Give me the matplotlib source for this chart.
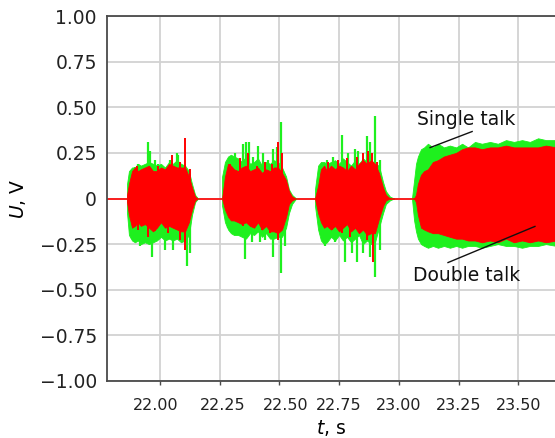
import matplotlib
matplotlib.use("Agg")
import matplotlib.pyplot as plt
import matplotlib.transforms as mtransforms

# ---------------- data ----------------
x_ticks = [22.00, 22.25, 22.50, 22.75, 23.00, 23.25, 23.50]
x_tick_labels = ["22.00", "22.25", "22.50", "22.75", "23.00", "23.25", "23.50"]
y_ticks = [1.00, 0.75, 0.50, 0.25, 0.0, -0.25, -0.50, -0.75, -1.00]
y_tick_labels = ["1.00", "0.75", "0.50", "0.25", "0", "\u22120.25", "\u22120.50", "\u22120.75", "\u22121.00"]

# burst 1 envelopes
t1 = [21.862, 21.870, 21.883, 21.895, 21.908, 21.920, 21.937, 21.954, 21.971, 21.987, 22.004,
      22.021, 22.038, 22.054, 22.071, 22.088, 22.105, 22.121, 22.134, 22.147, 22.159]
g1_up = [0.08, 0.15, 0.17, 0.17, 0.19, 0.18, 0.19, 0.20, 0.19, 0.18, 0.19, 0.17, 0.20, 0.19, 0.21, 0.19, 0.18, 0.15, 0.08, 0.02, 0.0]
g1_lo = [-0.08, -0.20, -0.23, -0.24, -0.23, -0.25, -0.24, -0.25, -0.24, -0.23, -0.21, -0.23, -0.22, -0.23, -0.22, -0.24, -0.23, -0.20, -0.09, -0.02, 0.0]
r1_up = [0.02, 0.08, 0.15, 0.17, 0.15, 0.16, 0.17, 0.18, 0.15, 0.15, 0.17, 0.16, 0.19, 0.18, 0.17, 0.17, 0.17, 0.12, 0.06, 0.01, 0.0]
r1_lo = [-0.02, -0.09, -0.16, -0.15, -0.13, -0.15, -0.14, -0.16, -0.18, -0.16, -0.13, -0.16, -0.15, -0.16, -0.17, -0.18, -0.18, -0.13, -0.06, -0.01, 0.0]

# burst 2 envelopes
t2 = [22.260, 22.272, 22.285, 22.297, 22.310, 22.327, 22.343, 22.360, 22.377, 22.394, 22.410,
      22.427, 22.444, 22.461, 22.477, 22.494, 22.511, 22.528, 22.540, 22.553, 22.570]
g2_up = [0.12, 0.20, 0.23, 0.24, 0.23, 0.22, 0.20, 0.23, 0.19, 0.20, 0.22, 0.18, 0.20, 0.19, 0.21, 0.20, 0.17, 0.12, 0.05, 0.02, 0.0]
g2_lo = [-0.04, -0.13, -0.17, -0.19, -0.20, -0.20, -0.21, -0.22, -0.19, -0.20, -0.18, -0.21, -0.19, -0.22, -0.22, -0.21, -0.21, -0.16, -0.08, -0.03, 0.0]
r2_up = [0.0, 0.12, 0.19, 0.18, 0.16, 0.15, 0.17, 0.18, 0.15, 0.16, 0.17, 0.14, 0.16, 0.15, 0.17, 0.17, 0.14, 0.10, 0.04, 0.01, 0.0]
r2_lo = [0.0, -0.06, -0.10, -0.12, -0.12, -0.13, -0.14, -0.13, -0.15, -0.16, -0.13, -0.17, -0.15, -0.18, -0.18, -0.19, -0.17, -0.10, -0.03, -0.01, 0.0]

# burst 3 envelopes
t3 = [22.649, 22.662, 22.674, 22.687, 22.699, 22.716, 22.733, 22.750, 22.766, 22.783, 22.800,
      22.817, 22.833, 22.850, 22.867, 22.884, 22.900, 22.917, 22.934, 22.946, 22.963, 22.980]
g3_up = [0.05, 0.18, 0.20, 0.20, 0.19, 0.20, 0.21, 0.19, 0.22, 0.20, 0.18, 0.21, 0.19, 0.22, 0.20, 0.21, 0.19, 0.18, 0.09, 0.04, 0.01, 0.0]
g3_lo = [-0.04, -0.17, -0.23, -0.25, -0.24, -0.21, -0.23, -0.20, -0.23, -0.21, -0.24, -0.22, -0.20, -0.25, -0.23, -0.25, -0.24, -0.16, -0.08, -0.03, -0.01, 0.0]
r3_up = [0.0, 0.07, 0.16, 0.18, 0.15, 0.18, 0.16, 0.18, 0.17, 0.15, 0.18, 0.16, 0.19, 0.21, 0.19, 0.21, 0.19, 0.14, 0.06, 0.02, 0.0, 0.0]
r3_lo = [0.0, -0.08, -0.13, -0.16, -0.15, -0.17, -0.15, -0.18, -0.16, -0.14, -0.18, -0.16, -0.19, -0.17, -0.20, -0.19, -0.19, -0.11, -0.04, -0.01, 0.0, 0.0]

# burst 4 (continuous talk) envelopes
t4 = [23.055, 23.064, 23.072, 23.080, 23.093, 23.106, 23.122, 23.143, 23.164, 23.189, 23.214, 23.240,
      23.265, 23.290, 23.319, 23.348, 23.382, 23.415, 23.449, 23.482, 23.516, 23.549, 23.583, 23.616, 23.660]
g4_up = [0.0, 0.10, 0.19, 0.23, 0.27, 0.28, 0.30, 0.28, 0.30, 0.28, 0.29, 0.28, 0.30, 0.28, 0.31, 0.30, 0.31, 0.30, 0.32, 0.31, 0.32, 0.31, 0.33, 0.32, 0.32]
g4_lo = [0.0, -0.12, -0.18, -0.22, -0.25, -0.26, -0.27, -0.26, -0.27, -0.26, -0.27, -0.26, -0.27, -0.26, -0.26, -0.27, -0.26, -0.25, -0.26, -0.26, -0.27, -0.26, -0.26, -0.25, -0.26]
r4_up = [0.0, 0.0, 0.02, 0.08, 0.13, 0.15, 0.16, 0.20, 0.21, 0.23, 0.24, 0.25, 0.27, 0.28, 0.28, 0.27, 0.28, 0.28, 0.29, 0.28, 0.28, 0.28, 0.28, 0.29, 0.28]
r4_lo = [0.0, 0.0, -0.02, -0.09, -0.16, -0.17, -0.18, -0.19, -0.19, -0.20, -0.21, -0.22, -0.22, -0.23, -0.23, -0.24, -0.23, -0.24, -0.22, -0.24, -0.23, -0.24, -0.23, -0.24, -0.23]

# individual peaks (time, value) above / below the envelopes
green_peak_up_t = [21.895, 21.909, 21.951, 21.958, 21.979, 21.993, 22.021, 22.042, 22.070, 22.077, 22.118,
                   22.314, 22.349, 22.360, 22.374, 22.391, 22.412, 22.433, 22.454, 22.474, 22.489, 22.505,
                   22.698, 22.726, 22.761, 22.789, 22.817, 22.831, 22.866, 22.879, 22.900, 22.921]
green_peak_up_v = [0.17, 0.19, 0.31, 0.26, 0.21, 0.19, 0.16, 0.21, 0.25, 0.24, 0.14,
                   0.25, 0.30, 0.31, 0.31, 0.23, 0.29, 0.25, 0.21, 0.27, 0.28, 0.42,
                   0.21, 0.23, 0.35, 0.25, 0.27, 0.26, 0.34, 0.31, 0.45, 0.21]
green_peak_lo_t = [21.881, 21.916, 21.930, 21.965, 21.993, 22.021, 22.056, 22.112, 22.126,
                   22.286, 22.321, 22.356, 22.384, 22.419, 22.440, 22.474, 22.507, 22.523,
                   22.691, 22.733, 22.775, 22.803, 22.823, 22.851, 22.879, 22.900, 22.921]
green_peak_lo_v = [-0.22, -0.26, -0.24, -0.32, -0.23, -0.28, -0.28, -0.37, -0.30,
                   -0.16, -0.20, -0.33, -0.24, -0.24, -0.23, -0.32, -0.41, -0.26,
                   -0.26, -0.24, -0.35, -0.30, -0.35, -0.30, -0.32, -0.43, -0.28]
red_peak_up_t = [21.902, 21.937, 21.993, 22.049, 22.084, 22.105, 22.126,
                 22.293, 22.335, 22.370, 22.405, 22.440, 22.468, 22.496, 22.510,
                 22.705, 22.747, 22.782, 22.823, 22.851, 22.872, 22.886, 22.907]
red_peak_up_v = [0.18, 0.16, 0.18, 0.24, 0.20, 0.33, 0.16,
                 0.19, 0.22, 0.25, 0.18, 0.20, 0.19, 0.31, 0.25,
                 0.20, 0.21, 0.22, 0.23, 0.25, 0.26, 0.25, 0.20]
red_peak_lo_t = [21.909, 21.951, 21.979, 22.035, 22.084, 22.105,
                 22.307, 22.349, 22.391, 22.426, 22.461, 22.496,
                 22.719, 22.761, 22.796, 22.838, 22.866, 22.893]
red_peak_lo_v = [-0.17, -0.21, -0.18, -0.19, -0.23, -0.28,
                 -0.12, -0.15, -0.13, -0.17, -0.19, -0.23,
                 -0.17, -0.19, -0.21, -0.19, -0.23, -0.35]

bursts = [(t1, g1_up, g1_lo, r1_up, r1_lo),
          (t2, g2_up, g2_lo, r2_up, r2_lo),
          (t3, g3_up, g3_lo, r3_up, r3_lo),
          (t4, g4_up, g4_lo, r4_up, r4_lo)]

x_range = [21.776, 23.654]

# annotation anchors (data coordinates)
single_text_xy = (23.281, 0.433)
single_line = ([23.307, 23.131], [0.367, 0.279])
double_text_xy = (23.286, -0.422)
double_line = ([23.206, 23.570], [-0.351, -0.153])

# ---------------- figure ----------------
GREEN = "#1ef01e"
RED = "#ff0000"
SPINE = "#4a4a4a"
GRID = "#d2d2d2"

fig = plt.figure(figsize=(5.55, 4.38), dpi=100)
ax = fig.add_axes([106.5 / 555, 57 / 438, 448.5 / 555, 365 / 438])

ax.set_xlim(*x_range)
ax.set_ylim(-1.0, 1.0)

ax.set_xticks(x_ticks)
ax.set_xticklabels(x_tick_labels, fontsize=11.5, color="#222222")
ax.set_yticks(y_ticks)
ax.set_yticklabels(y_tick_labels, fontsize=13.5, color="#222222")

ax.grid(True, color=GRID, linewidth=1.3, zorder=0)
ax.set_axisbelow(True)
ax.tick_params(axis="x", direction="out", length=3, width=1, color=SPINE, pad=9)
ax.tick_params(axis="y", length=0, pad=7)

for side in ("left", "top", "bottom"):
    ax.spines[side].set_color(SPINE)
    ax.spines[side].set_linewidth(1.3)
ax.spines["right"].set_visible(False)

# zero line
ax.plot(x_range, [0, 0], color=RED, linewidth=1.2, zorder=2)

# green envelope and peaks
for t, gu, gl, ru, rl in bursts:
    ax.fill_between(t, gl, gu, color=GREEN, linewidth=0.6, edgecolor=GREEN, zorder=3)
ax.vlines(green_peak_up_t, 0, green_peak_up_v, color=GREEN, linewidth=1.6, zorder=3)
ax.vlines(green_peak_lo_t, green_peak_lo_v, 0, color=GREEN, linewidth=1.6, zorder=3)

# red envelope and peaks
for t, gu, gl, ru, rl in bursts:
    ax.fill_between(t, rl, ru, color=RED, linewidth=0.6, edgecolor=RED, zorder=4)
ax.vlines(red_peak_up_t, 0, red_peak_up_v, color=RED, linewidth=1.4, zorder=4)
ax.vlines(red_peak_lo_t, red_peak_lo_v, 0, color=RED, linewidth=1.4, zorder=4)

# annotations
ax.text(*single_text_xy, "Single talk", fontsize=13.5, ha="center", va="center",
        color="#111111", zorder=6)
ax.plot(*single_line, color="#111111", linewidth=1.0, zorder=6)
ax.text(*double_text_xy, "Double talk", fontsize=13.5, ha="center", va="center",
        color="#111111", zorder=6)
ax.plot(*double_line, color="#111111", linewidth=1.0, zorder=6)

ax.set_xlabel("$t$, s", fontsize=13.5, labelpad=4)
ax.set_ylabel("$U$, V", fontsize=13.5, labelpad=8)

# small horizontal offsets of the first tick labels, as in the reference
offsets_px = [-4, 3, 6, 0, 0, 0, 0]
for lab, dx in zip(ax.get_xticklabels(), offsets_px):
    lab.set_transform(lab.get_transform() + mtransforms.ScaledTranslation(dx / 100, 0, fig.dpi_scale_trans))

fig.savefig("out.png", dpi=100)
